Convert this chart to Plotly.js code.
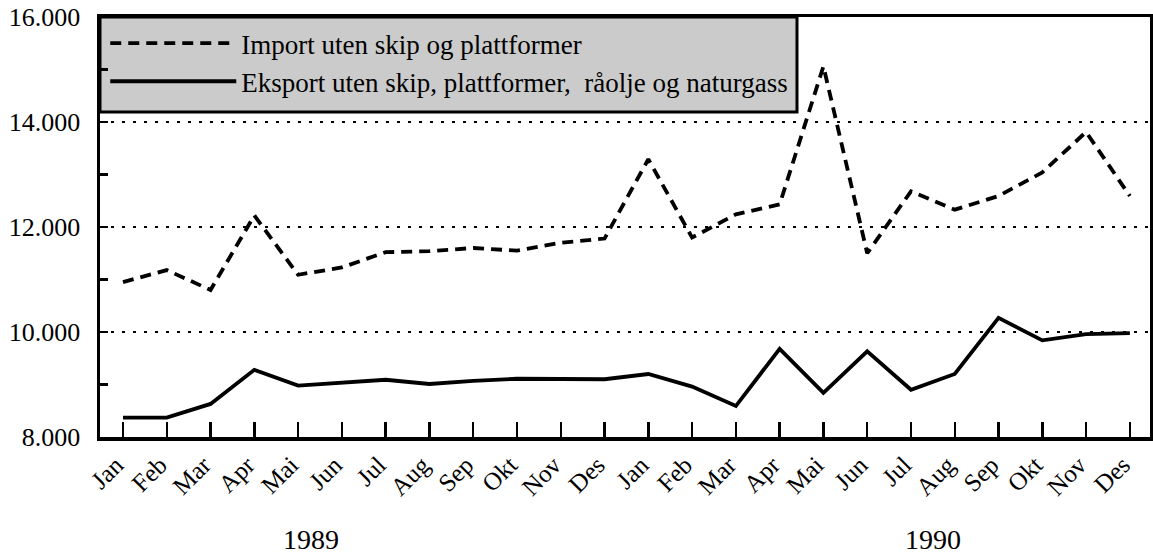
<!DOCTYPE html>
<html>
<head>
<meta charset="utf-8">
<script src="https://cdn.plot.ly/plotly-3.0.1.min.js"></script>
<style>
  html, body { margin: 0; padding: 0; background: #ffffff; }
  #chart { width: 1153px; height: 555px; }
</style>
</head>
<body>
<div id="chart"></div>
<script>
// Month labels (two years)
const months = ['Jan','Feb','Mar','Apr','Mai','Jun','Jul','Aug','Sep','Okt','Nov','Des'];
const tickLabels = months.concat(months);
const monthIndex = tickLabels.map((_, i) => i);

// Series values (mill. kr)
const importValues = [10950, 11180, 10800, 12220, 11090, 11230, 11520, 11540, 11600, 11550, 11700, 11780,
                      13290, 11800, 12240, 12430, 15060, 11500, 12680, 12330, 12590, 13040, 13810, 12590];
const exportValues = [8370, 8370, 8630, 9280, 8980, 9040, 9090, 9010, 9070, 9110, 9100, 9100,
                      9200, 8960, 8590, 9680, 8840, 9630, 8900, 9200, 10270, 9840, 9960, 9980];

// Y-axis ticks
const yTickValues = [8000, 10000, 12000, 14000, 16000];
const yTickText = ['8.000', '10.000', '12.000', '14.000', '16.000'];

// Series names and year labels
const importName = 'Import uten skip og plattformer';
const exportName = 'Eksport uten skip, plattformer,  råolje og naturgass';
const years = ['1989', '1990'];
const yearCenters = [4.3, 18.5];

const serif = '"Liberation Serif", "Times New Roman", serif';

const traces = [
  {
    x: monthIndex, y: importValues, name: importName,
    type: 'scatter', mode: 'lines',
    line: { color: '#000000', width: 3.8, dash: '11px,7px' }
  },
  {
    x: monthIndex, y: exportValues, name: exportName,
    type: 'scatter', mode: 'lines',
    line: { color: '#000000', width: 3.8 }
  }
];

const layout = {
  width: 1153, height: 555,
  margin: { l: 100, r: 3, t: 17, b: 118 },
  paper_bgcolor: '#ffffff',
  plot_bgcolor: '#ffffff',
  showlegend: true,
  legend: {
    x: 0.005, y: 0.995, xanchor: 'left', yanchor: 'top',
    bgcolor: 'rgba(0,0,0,0)', borderwidth: 0,
    font: { family: serif, size: 27, color: '#000000' },
    itemwidth: 126,
    tracegroupgap: 6
  },
  xaxis: {
    range: [-0.525, 23.46],
    tickmode: 'array', tickvals: monthIndex, ticktext: tickLabels,
    tickangle: -45,
    ticklabelshift: -7,
    ticks: 'inside', ticklen: 15, tickwidth: 2.5, tickcolor: '#000000',
    showline: true, linecolor: '#000000', linewidth: 3.5, mirror: true,
    showgrid: false, zeroline: false,
    tickfont: { family: serif, size: 25, color: '#000000' }
  },
  yaxis: {
    range: [8000, 16000],
    tickmode: 'array', tickvals: yTickValues, ticktext: yTickText,
    ticks: 'inside', ticklen: 8, tickwidth: 2.5, tickcolor: '#000000',
    minor: { dtick: 1000, ticks: 'inside', ticklen: 8, tickwidth: 2.5, tickcolor: '#000000', showgrid: false },
    showline: true, linecolor: '#000000', linewidth: 3.5, mirror: true,
    showgrid: true, gridcolor: '#000000', gridwidth: 2.5, griddash: '3px,8px',
    zeroline: false,
    ticklabelstandoff: 11,
    tickfont: { family: serif, size: 26, color: '#000000' }
  },
  shapes: [
    {
      type: 'rect', xref: 'paper', yref: 'paper',
      x0: 0, x1: 0.6638, y0: 0.7738, y1: 1,
      fillcolor: '#cbcbcb', line: { color: '#000000', width: 3 },
      layer: 'below'
    }
  ],
  annotations: years.map((t, i) => ({
    text: t, x: yearCenters[i], xref: 'x', y: -0.285, yref: 'paper',
    xanchor: 'center', yanchor: 'bottom', showarrow: false,
    font: { family: serif, size: 28, color: '#000000' }
  }))
};

Plotly.newPlot('chart', traces, layout, { displayModeBar: false, staticPlot: true });
</script>
</body>
</html>
